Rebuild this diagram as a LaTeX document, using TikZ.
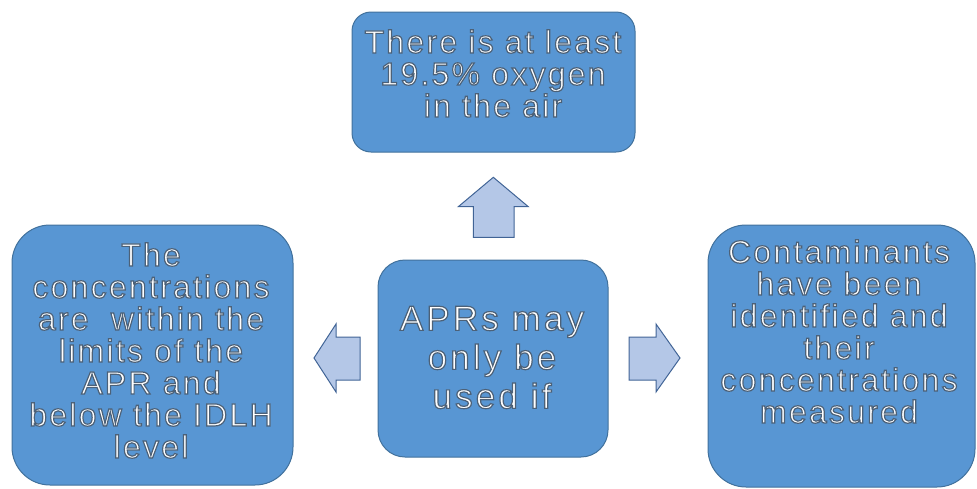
\documentclass[tikz,border=0pt]{standalone}
\usepackage{fontspec}
\setmainfont{Liberation Sans}
\newfontfamily\boxfont[LetterSpace=7]{Liberation Sans}
\newfontfamily\centerfont[LetterSpace=9]{Liberation Sans}
\definecolor{boxfill}{RGB}{88,150,211}
\definecolor{boxline}{RGB}{65,113,156}
\definecolor{arrfill}{RGB}{180,199,231}
\definecolor{arrline}{RGB}{65,100,150}
\newcommand\outlinetext{\special{pdf:code 2 Tr 1.2 w 0.30 0.38 0.47 RG}}
\begin{document}
\begin{tikzpicture}[x=1pt,y=-1pt,
  box/.style={draw=boxline, line width=1pt, fill=boxfill, inner sep=0pt},
  blockarrow/.style={draw=arrline, line width=1pt, fill=arrfill, line join=miter},
  lbl/.style={text=white, font=\boxfont\fontsize{32}{32}\selectfont, align=center, inner sep=0pt},
  lblc/.style={lbl, font=\centerfont\fontsize{35}{39}\selectfont}]
\useasboundingbox (0,0) rectangle (977,488);
% boxes
\node[box, rounded corners=19pt, minimum width=283pt, minimum height=140pt] (topbox) at (493.5,82) {};
\node[box, rounded corners=38pt, minimum width=281pt, minimum height=260pt] (leftbox) at (152.5,355) {};
\node[box, rounded corners=27pt, minimum width=230pt, minimum height=197pt] (centerbox) at (493,358.5) {};
\node[box, rounded corners=38pt, minimum width=267pt, minimum height=262pt] (rightbox) at (841.5,356) {};
% texts
\node[lbl] (toptext) at (493,73.5) {\outlinetext There is at least\\19.5\% oxygen\\in the air};
\node[lbl] (lefttext) at (151,350.5) {\outlinetext The\\concentrations\\are\ \ within the\\limits of the\\APR and\\below the IDLH\\level};
\node[lblc] (centertext) at (492,357.5) {\outlinetext APRs may\\only be\\used if};
\node[lbl] (righttext) at (839,331.5) {\outlinetext Contaminants\\have been\\identified and\\their\\concentrations\\measured};
% block arrows
\draw[blockarrow] (493.3,177.3) -- (528.3,206.7) -- (514,206.7) -- (514,237.3) -- (473.3,237.3) -- (473.3,206.7) -- (458.3,206.7) -- cycle;
\draw[blockarrow] (314,358) -- (336,324) -- (336,337) -- (360,337) -- (360,380) -- (336,380) -- (336,392) -- cycle;
\draw[blockarrow] (680,358) -- (656,324) -- (656,337) -- (629,337) -- (629,380) -- (656,380) -- (656,392) -- cycle;
\end{tikzpicture}
\end{document}
